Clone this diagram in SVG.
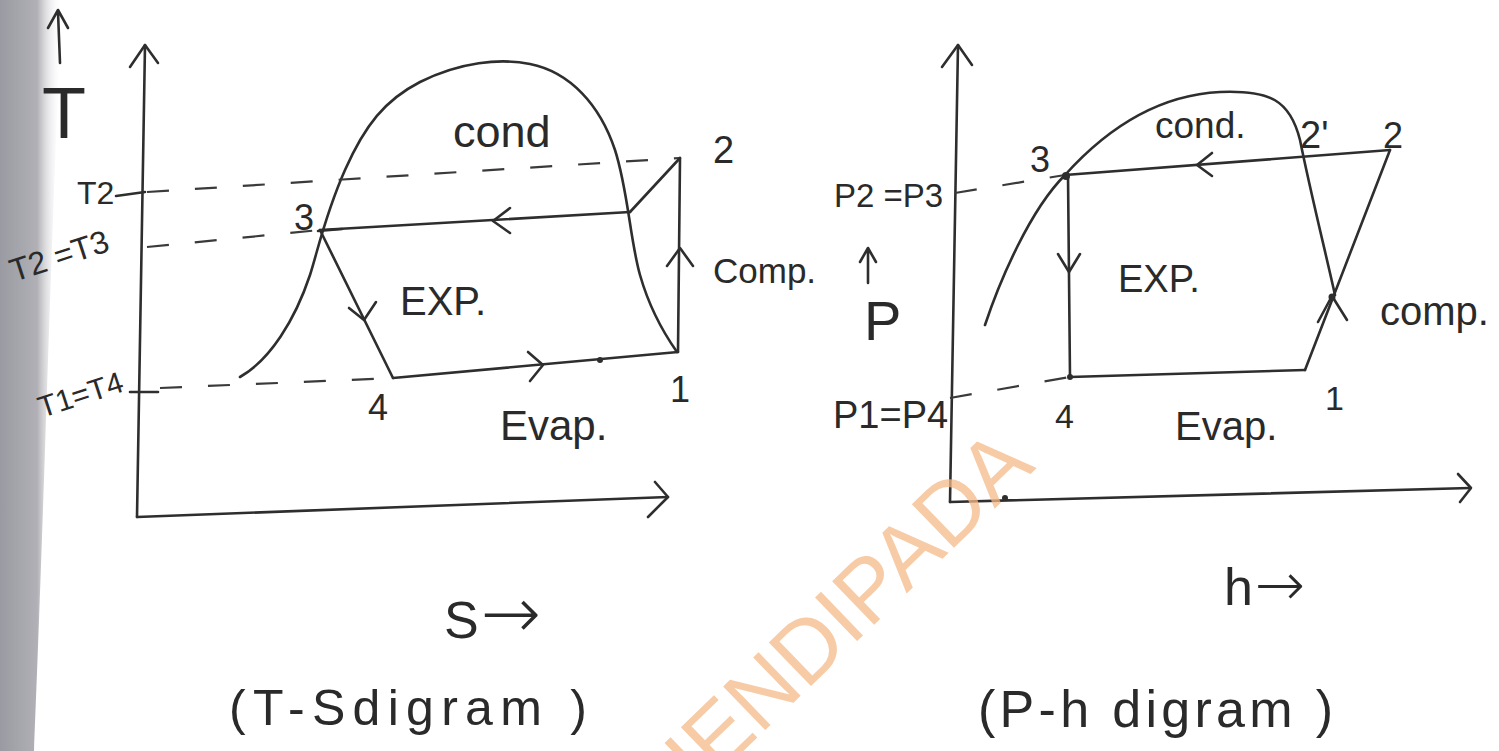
<svg xmlns="http://www.w3.org/2000/svg" width="1499" height="751" viewBox="0 0 1499 751">
<defs>
<linearGradient id="scan" x1="0" y1="0" x2="1" y2="0">
<stop offset="0" stop-color="#9a9aa2"/>
<stop offset="0.6" stop-color="#b0b0b6"/>
<stop offset="1" stop-color="#ffffff" stop-opacity="0"/>
</linearGradient>
<style>
.ln{fill:none;stroke:#2e2e2e;stroke-width:2.6;stroke-linecap:round;stroke-linejoin:round}
.ds{fill:none;stroke:#3a3a3a;stroke-width:2.2;stroke-dasharray:22 26}
.tx{font-family:"Liberation Sans",Arial,sans-serif;fill:#2a2a2a}
.ar{font-family:"DejaVu Sans",sans-serif;font-weight:200}
.wm{font-family:"Liberation Sans",Arial,sans-serif;fill:#f3b987;fill-opacity:0.75}
</style>
</defs>
<rect width="1499" height="751" fill="#ffffff"/>
<path d="M0,0 L62,0 C55,150 50,300 45,450 C40,600 36,700 34,751 L0,751 Z" fill="url(#scan)"/>

<g id="ts-axes">
<path class="ln" d="M137,517 L145,45"/>
<path class="ln" d="M130,67 L145,45 L158,63"/>
<path class="ln" d="M137,517 L668,497"/>
<path class="ln" d="M655,482 L668,497 L648,517"/>
<path class="ln" d="M60,63 L58,12 M48,28 L58,10 L68,28"/>
<path class="ln" d="M116,196 L145,192"/>
<path class="ln" d="M130,392 L158,392"/>
</g>

<g id="ts-dome">
<path class="ln" d="M240,377 C270,360 295,320 310,275 C318,250 325,215 345,170 C365,125 385,100 420,82 C460,62 500,58 530,64 C570,72 600,105 615,150 C628,190 630,240 640,275 C650,310 665,335 677,352"/>
</g>

<g id="connectors">
<path class="ds" d="M147,192 L680,158"/>
<path class="ds" d="M147,247 L320,230"/>
<path class="ds" d="M160,388 L395,378"/>
<path class="ln" d="M320,230 L630,212"/>
<path class="ln" d="M510,208 L493,221 L510,233"/>
<path class="ln" d="M318,231 L342,229" stroke-width="6"/>
<path class="ln" d="M320,230 L393,378"/>
<path class="ln" d="M349,308 L364,320 L376,302"/>
<path class="ln" d="M630,212 L680,158"/>
<path class="ln" d="M680,158 L678,352"/>
<path class="ln" d="M667,266 L680,248 L693,266"/>
<path class="ln" d="M393,378 L678,352"/>
<path class="ln" d="M528,352 L543,365 L530,381"/>
<circle cx="600" cy="360" r="3" fill="#2e2e2e"/>

<path class="ln" d="M950,502 L958,45"/>
<path class="ln" d="M942,67 L958,45 L972,65"/>
<path class="ln" d="M950,502 L1470,488"/>
<path class="ln" d="M1458,474 L1471,488 L1460,502"/>
<circle cx="1005" cy="498" r="3" fill="#2e2e2e"/>
<path class="ln" d="M868,283 L868,250 M860,262 L868,248 L876,262"/>
<path class="ds" d="M955,193 L1065,175"/>
<path class="ds" d="M950,398 L1070,377"/>
<path class="ln" d="M985,325 C1000,280 1030,210 1065,175 C1110,125 1160,95 1220,92 C1270,90 1290,100 1300,140 C1310,190 1325,250 1335,295"/>
<path class="ln" d="M1065,175 L1390,150"/>
<path class="ln" d="M1212,153 L1197,165 L1212,176"/>
<path class="ln" d="M1390,150 L1305,370"/>
<path class="ln" d="M1318,322 L1332,296 L1347,320"/>
<circle cx="1332" cy="297" r="3.5" fill="#2e2e2e"/>
<path class="ln" d="M1068,175 L1070,377"/>
<path class="ln" d="M1058,254 L1069,272 L1080,254"/>
<path class="ln" d="M1070,377 L1305,370"/>
<circle cx="1066" cy="176" r="4" fill="#2e2e2e"/>
<circle cx="1070" cy="377" r="3" fill="#2e2e2e"/>
</g>

<g id="ts-labels">
<text class="tx" x="42" y="138" font-size="72">T</text>
<text class="tx" x="77" y="204" font-size="32">T2</text>
<text class="tx" font-size="32" transform="translate(14,282) rotate(-18)">T2 =T3</text>
<text class="tx" font-size="30" transform="translate(42,418) rotate(-18)">T1=T4</text>
<text class="tx" x="294" y="230" font-size="36">3</text>
<text class="tx" x="453" y="147" font-size="45">cond</text>
<text class="tx" x="713" y="163" font-size="38">2</text>
<text class="tx" x="713" y="283" font-size="35">Comp.</text>
<text class="tx" x="400" y="315" font-size="40">EXP.</text>
<text class="tx" x="368" y="420" font-size="36">4</text>
<text class="tx" x="500" y="440" font-size="42">Evap.</text>
<text class="tx" x="670" y="402" font-size="36">1</text>
<text class="tx" x="444" y="638" font-size="52">S<tspan class="ar" font-size="72" dx="2">→</tspan></text>
<text class="tx" x="229" y="725" font-size="50" textLength="358" lengthAdjust="spacing">(T-Sdigram )</text>
</g>

<g id="ph-labels">
<text class="tx" x="834" y="207" font-size="33">P2 =P3</text>
<text class="tx" x="864" y="340" font-size="56">P</text>
<text class="tx" x="833" y="428" font-size="38">P1=P4</text>
<text class="tx" x="1030" y="172" font-size="36">3</text>
<text class="tx" x="1155" y="138" font-size="37">cond.</text>
<text class="tx" x="1300" y="148" font-size="38">2'</text>
<text class="tx" x="1383" y="148" font-size="36">2</text>
<text class="tx" x="1118" y="292" font-size="38">EXP.</text>
<text class="tx" x="1380" y="325" font-size="40">comp.</text>
<text class="tx" x="1055" y="428" font-size="34">4</text>
<text class="tx" x="1175" y="440" font-size="40">Evap.</text>
<text class="tx" x="1325" y="410" font-size="34">1</text>
<text class="tx" x="1224" y="605" font-size="52">h<tspan class="ar" font-size="60" dx="2">→</tspan></text>
<text class="tx" x="978" y="727" font-size="52" textLength="355" lengthAdjust="spacing">(P-h digram )</text>
</g>

<g id="watermark">
<text class="wm" font-size="88" transform="translate(672,820) rotate(-44)">HENDIPADA</text>
</g>
</svg>
